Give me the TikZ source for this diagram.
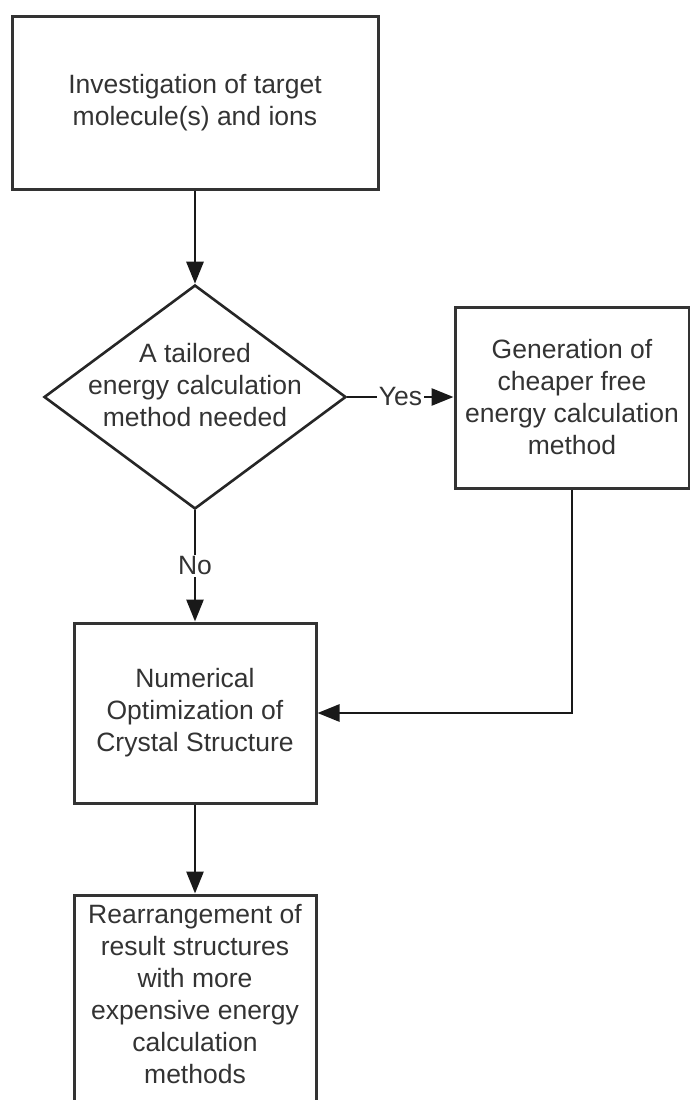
\documentclass[tikz,border=0pt]{standalone}
\usepackage{fontspec}
\setmainfont{Liberation Sans}
\usetikzlibrary{arrows.meta,shapes.geometric}
\definecolor{bd}{HTML}{333333}
\begin{document}
\begin{tikzpicture}[x=1pt,y=-1pt,
 txt/.style={text=bd, font=\fontsize{26.5}{32}\selectfont, align=center, inner sep=0pt},
 box/.style={draw=bd, line width=3pt, rectangle, txt},
 dia/.style={diamond, draw=black!85, line width=2.6pt, minimum width=302, minimum height=224, inner sep=0pt},
 conn/.style={draw=black!90, line width=2.8pt, -{Triangle[length=22pt,width=17pt]}},
 lab/.style={txt, fill=white, inner sep=2pt}]
\useasboundingbox (0,0) rectangle (690,1100);
\clip (0,0) rectangle (690,1100);
\node[box, minimum width=366, minimum height=173] (inv) at (195,102.5) {Investigation of target\\molecule(s) and ions};
\node[dia] (dec) at (195,397) {};
\node[txt] (dect) at (195,385) {A tailored\\energy calculation\\method needed};
\node[box, minimum width=234, minimum height=181] (gen) at (572,397.5) {Generation of\\cheaper free\\energy calculation\\method};
\node[box, minimum width=242, minimum height=180] (num) at (195,713) {Numerical\\Optimization of\\Crystal Structure};
\node[box, minimum width=242, minimum height=220] (rea) at (195,1005) {};
\node[txt] (reat) at (195,994) {Rearrangement of\\result structures\\with more\\expensive energy\\calculation\\methods};
\draw[conn] (inv) -- (dec);
\draw[conn] (dec.east) -- node[lab] (yes) {Yes} (dec.east -| gen.west);
\draw[conn] (dec) -- node[lab] (no) {No} (num);
\draw[conn] (gen.south) |- (num.east);
\draw[conn] (num) -- (rea);
\end{tikzpicture}
\end{document}
